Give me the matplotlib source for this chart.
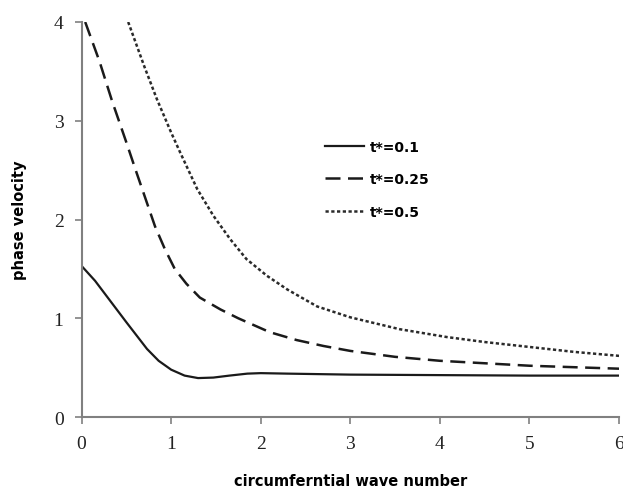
import matplotlib
matplotlib.use("Agg")
import matplotlib.pyplot as plt

# t* = 0.1 (solid)
x1 = [0, 0.15, 0.3, 0.5, 0.73, 0.86, 1.0, 1.15, 1.3, 1.47, 1.65, 1.85, 2.0, 2.3, 3, 4, 5, 6]
y1 = [1.53, 1.38, 1.20, 0.96, 0.69, 0.57, 0.48, 0.42, 0.395, 0.40, 0.42, 0.44, 0.445, 0.44, 0.43, 0.425, 0.42, 0.42]

# t* = 0.25 (dashed)
x2 = [0.04, 0.2, 0.34, 0.5, 0.6, 0.71, 0.82, 0.93, 1.04, 1.17, 1.32, 1.55, 1.75, 1.9, 2.1, 2.4, 2.7, 3.0, 3.5, 4.0, 4.5, 5.0, 5.5, 6.0]
y2 = [4.0, 3.6, 3.2, 2.78, 2.51, 2.22, 1.93, 1.70, 1.50, 1.35, 1.21, 1.09, 1.00, 0.94, 0.86, 0.78, 0.72, 0.67, 0.61, 0.57, 0.545, 0.52, 0.505, 0.49]

# t* = 0.5 (dotted)
x3 = [0.52, 0.7, 0.84, 1.0, 1.1, 1.29, 1.47, 1.66, 1.84, 2.07, 2.3, 2.63, 3.0, 3.55, 4.08, 4.5, 5.0, 5.5, 6.0]
y3 = [4.0, 3.55, 3.22, 2.88, 2.68, 2.31, 2.04, 1.80, 1.60, 1.43, 1.29, 1.12, 1.01, 0.89, 0.81, 0.76, 0.71, 0.66, 0.62]

labels = ["t*=0.1", "t*=0.25", "t*=0.5"]
xticks = [0, 1, 2, 3, 4, 5, 6]
yticks = [0, 1, 2, 3, 4]

fig = plt.figure(figsize=(6.23, 4.89), dpi=100)
ax = fig.add_axes([0.131, 0.145, 0.8626, 0.808])

ax.plot(x1, y1, color="#1a1a1a", lw=1.6, ls="-", label=labels[0])
ax.plot(x2, y2, color="#1a1a1a", lw=1.8, ls=(0, (6, 3)), label=labels[1])
ax.plot(x3, y3, color="#2a2a2a", lw=1.8, ls=(0, (1.3, 1.0)), label=labels[2])

ax.set_xlim(0, 6)
ax.set_ylim(0, 4)
ax.set_xticks(xticks)
ax.set_yticks(yticks)

for s in ["top", "right"]:
    ax.spines[s].set_visible(False)
for s in ["left", "bottom"]:
    ax.spines[s].set_color("#808080")
    ax.spines[s].set_linewidth(1.5)
ax.tick_params(axis="both", direction="out", length=5, width=1.2, color="#808080",
               labelsize=14, pad=8)
for lab in ax.get_xticklabels() + ax.get_yticklabels():
    lab.set_fontfamily("Liberation Serif")
    lab.set_color("#222222")

ax.set_xlabel("circumferntial wave number", fontsize=10.5, fontweight="bold",
              family="DejaVu Sans", labelpad=15)
ax.set_ylabel("phase velocity", fontsize=10.5, fontweight="bold",
              family="DejaVu Sans", labelpad=19)

leg = ax.legend(loc="upper left", bbox_to_anchor=(0.44, 0.72), frameon=False,
                prop={"family": "DejaVu Sans", "weight": "bold", "size": 10},
                handlelength=2.8, handletextpad=0.4, labelspacing=1.35, borderpad=0)

fig.savefig("out.png", dpi=100, facecolor="white")
